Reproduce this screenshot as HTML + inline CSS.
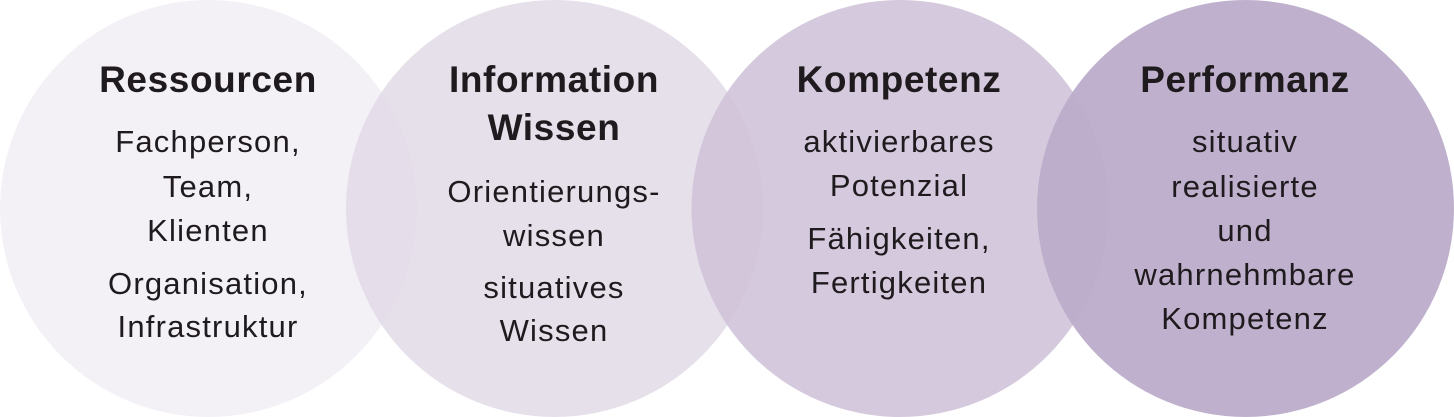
<!DOCTYPE html>
<html><head><meta charset="utf-8"><style>
html,body{margin:0;padding:0;background:#fff;}
svg{display:block;}
text{font-family:"Liberation Sans",sans-serif;fill:#1e1a1d;text-anchor:middle;}
.t{font-weight:bold;font-size:37px;letter-spacing:0.6px;}
.b{font-size:31px;letter-spacing:1.2px;}
</style></head><body>
<svg width="1454" height="417" viewBox="0 0 1454 417">
<circle cx="208.5" cy="208.5" r="208.5" fill="#f4f1f6"/>
<circle cx="554.5" cy="208.5" r="208.5" fill="#e2dae7" fill-opacity="0.85"/>
<circle cx="900" cy="208.5" r="208.5" fill="#d0c3d9" fill-opacity="0.9"/>
<circle cx="1245.5" cy="208.5" r="208.5" fill="#bcadca" fill-opacity="0.95"/>

<text class="t" x="208" y="92">Ressourcen</text>
<text class="b" x="208" y="152">Fachperson,</text>
<text class="b" x="208" y="197">Team,</text>
<text class="b" x="208" y="241">Klienten</text>
<text class="b" x="208" y="294">Organisation,</text>
<text class="b" x="208" y="337">Infrastruktur</text>

<text class="t" x="554" y="92">Information</text>
<text class="t" x="554" y="140">Wissen</text>
<text class="b" x="554" y="202">Orientierungs-</text>
<text class="b" x="554" y="246">wissen</text>
<text class="b" x="554" y="298">situatives</text>
<text class="b" x="554" y="341">Wissen</text>

<text class="t" x="899" y="92">Kompetenz</text>
<text class="b" x="899" y="152">aktivierbares</text>
<text class="b" x="899" y="196">Potenzial</text>
<text class="b" x="899" y="249">Fähigkeiten,</text>
<text class="b" x="899" y="293">Fertigkeiten</text>

<text class="t" x="1245" y="92">Performanz</text>
<text class="b" x="1245" y="152">situativ</text>
<text class="b" x="1245" y="197">realisierte</text>
<text class="b" x="1245" y="241">und</text>
<text class="b" x="1245" y="285">wahrnehmbare</text>
<text class="b" x="1245" y="329">Kompetenz</text>
</svg>
</body></html>
